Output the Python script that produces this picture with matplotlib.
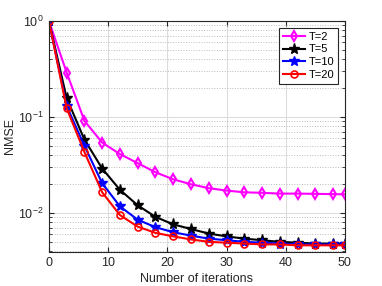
import matplotlib.pyplot as plt
import numpy as np

iters = np.array([0, 3, 6, 9, 12, 15, 18, 21, 24, 27, 30, 33, 36, 39, 42, 45, 48, 50])
nmse_t2 = np.array([1.0, 0.29, 0.091, 0.054, 0.041, 0.033, 0.0265, 0.0224, 0.0199, 0.0181,
                    0.0171, 0.0164, 0.0162, 0.0159, 0.0159, 0.0158, 0.0157, 0.0156])
nmse_t5 = np.array([1.0, 0.157, 0.058, 0.029, 0.0174, 0.012, 0.0091, 0.0076, 0.0068, 0.0061,
                    0.0057, 0.0054, 0.0052, 0.0050, 0.0049, 0.0048, 0.0048, 0.0048])
nmse_t10 = np.array([1.0, 0.13, 0.050, 0.0204, 0.0117, 0.0085, 0.0071, 0.0063, 0.0058, 0.0054,
                     0.0052, 0.0050, 0.0049, 0.0048, 0.0047, 0.0047, 0.0047, 0.0047])
nmse_t20 = np.array([1.0, 0.123, 0.043, 0.0164, 0.0095, 0.0072, 0.0062, 0.0057, 0.0053, 0.0050,
                     0.0049, 0.0048, 0.0047, 0.0047, 0.0046, 0.0046, 0.0046, 0.0046])

plt.rcParams['font.family'] = 'Liberation Sans'
fig = plt.figure(figsize=(3.82, 2.86), dpi=100)
ax = fig.add_axes([0.128, 0.12, 0.775, 0.807])

ax.semilogy(iters, nmse_t2, '-d', color='magenta', lw=1.5, ms=5, mfc='none', mew=1.5, label='T=2')
ax.semilogy(iters, nmse_t5, '-*', color='black', lw=1.5, ms=8, label='T=5')
ax.semilogy(iters, nmse_t10, '-*', color='blue', lw=1.5, ms=7, label='T=10')
ax.semilogy(iters, nmse_t20, '-o', color='red', lw=1.5, ms=5, mfc='none', mew=1.2, label='T=20')

ax.set_xlim(0, 50)
ax.set_ylim(0.00395, 1)
ax.set_xticks([0, 10, 20, 30, 40, 50])
ax.set_yticks([1, 0.1, 0.01])
ax.grid(which='major', color='#dddddd', lw=0.8)
ax.grid(which='minor', axis='y', color='#bbbbbb', ls=':', lw=0.7)
ax.tick_params(which='both', direction='in', top=True, right=True, labelsize=9, colors='#262626')
ax.tick_params(which='major', length=3.5)
ax.tick_params(which='minor', length=2)
for s in ax.spines.values():
    s.set_color('#262626')
ax.set_xlabel('Number of iterations', fontsize=9, color='#262626', labelpad=3)
ax.set_ylabel('NMSE', fontsize=9, color='#262626', labelpad=2)
leg = ax.legend(loc='upper right', fontsize=8, handlelength=2.0, handletextpad=0.3,
                labelspacing=0.25, borderpad=0.35, fancybox=False, framealpha=1,
                bbox_to_anchor=(0.976, 0.97), borderaxespad=0)
leg.get_frame().set_edgecolor('#262626')
leg.get_frame().set_linewidth(0.8)

fig.savefig('out.png', dpi=100)
